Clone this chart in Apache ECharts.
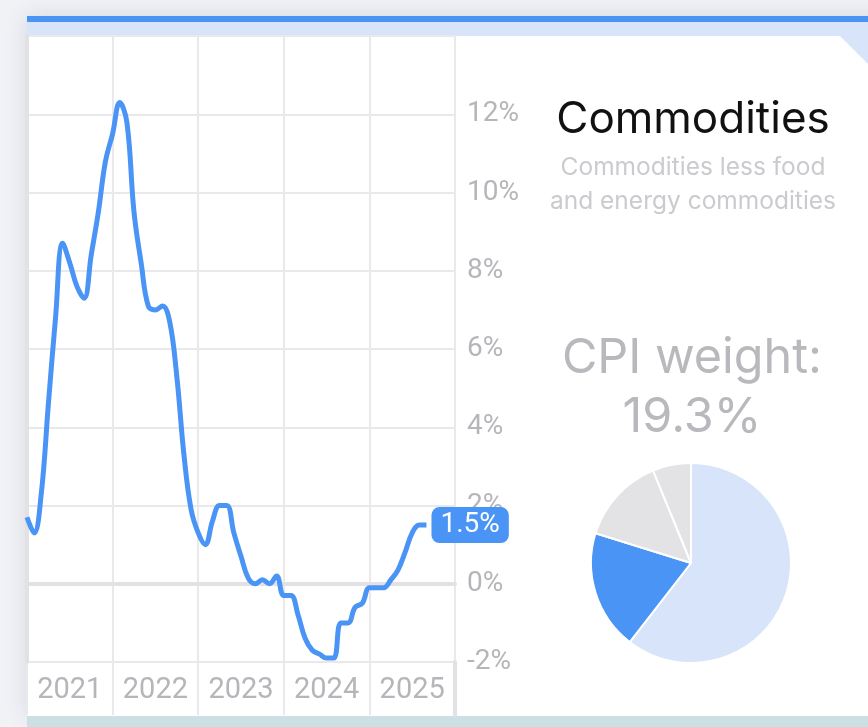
<!DOCTYPE html>
<html>
<head>
<meta charset="utf-8">
<script src="https://cdn.jsdelivr.net/npm/echarts@6/dist/echarts.min.js"></script>
<style>
  html, body { margin: 0; padding: 0; width: 868px; height: 727px; overflow: hidden; background: #f1f2f6; }
  #card { position: absolute; left: 27px; top: 16px; width: 900px; height: 700px; background: #fff;
          box-shadow: 0 0 22px rgba(40, 50, 80, 0.13); }
  #topBar { position: absolute; left: 27px; top: 16px; width: 900px; height: 6px; background: #4a94f5; }
  #band { position: absolute; left: 27px; top: 22px; width: 900px; height: 14px; background: #d7e4fa; }
  #corner { position: absolute; left: 840px; top: 36px; width: 28px; height: 28px; background: #d7e4fa;
            clip-path: polygon(0 0, 100% 0, 100% 100%); }
  #foot { position: absolute; left: 27px; top: 716px; width: 900px; height: 11px; background: #cce0e3; }
  #chart { position: absolute; left: 0; top: 0; width: 868px; height: 727px; }
</style>
</head>
<body>
<div id="card"></div>
<div id="topBar"></div>
<div id="band"></div>
<div id="corner"></div>
<div id="foot"></div>
<div id="chart"></div>
<script>
// year bands on the x axis
var years = ['2021', '2022', '2023', '2024', '2025'];

// monthly YoY change, Jan 2021 .. Sep 2025 (%)
var months = [
  '2021-01','2021-02','2021-03','2021-04','2021-05','2021-06','2021-07','2021-08','2021-09','2021-10','2021-11','2021-12',
  '2022-01','2022-02','2022-03','2022-04','2022-05','2022-06','2022-07','2022-08','2022-09','2022-10','2022-11','2022-12',
  '2023-01','2023-02','2023-03','2023-04','2023-05','2023-06','2023-07','2023-08','2023-09','2023-10','2023-11','2023-12',
  '2024-01','2024-02','2024-03','2024-04','2024-05','2024-06','2024-07','2024-08','2024-09','2024-10','2024-11','2024-12',
  '2025-01','2025-02','2025-03','2025-04','2025-05','2025-06','2025-07','2025-08','2025-09'
];
var values = [
  1.7, 1.3, 2.3, 4.6, 6.8, 8.7, 8.2, 7.6, 7.3, 8.4, 9.5, 10.8,
  11.5, 12.3, 11.8, 9.5, 8.2, 7.1, 7.0, 7.1, 6.7, 5.3, 3.3, 1.9,
  1.3, 1.0, 1.6, 2.0, 2.0, 1.3, 0.7, 0.15, 0.0, 0.1, 0.0, 0.2,
  -0.3, -0.3, -0.8, -1.4, -1.7, -1.8, -1.9, -1.9, -1.0, -1.0, -0.6, -0.5,
  -0.1, -0.1, -0.1, 0.1, 0.35, 0.8, 1.3, 1.5, 1.5
];

// CPI weights for the pie
var pieNames = ['Services less energy services', 'Commodities less food and energy commodities', 'Food', 'Energy'];
var pieValues = [60.5, 19.3, 14.0, 6.2];
var pieColors = ['#d7e4fa', '#4a94f5', '#e3e3e5', '#e3e3e5'];

var lineData = [];
for (var i = 0; i < values.length; i++) {
  lineData.push([i, values[i]]);
}

var pieData = [];
for (var j = 0; j < pieValues.length; j++) {
  pieData.push({ name: pieNames[j], value: pieValues[j], itemStyle: { color: pieColors[j] } });
}

var axisGray = '#e2e2e4';
var gridGray = '#e9e9eb';
var labelGray = '#b6b6ba';

var myChart = echarts.init(document.getElementById('chart'));

var option = {
  animation: false,
  title: [
    {
      text: 'Commodities',
      left: 688, top: 93, textAlign: 'center',
      textStyle: { fontFamily: 'Inter', fontSize: 44, fontWeight: 'normal', color: '#111' }
    },
    {
      text: 'Commodities less food\nand energy commodities',
      left: 688, top: 146, textAlign: 'center',
      textStyle: { fontFamily: 'Inter', fontSize: 24.5, fontWeight: 'normal', color: '#cbcbcf', lineHeight: 34 }
    },
    {
      text: 'CPI weight:\n' + pieValues[1] + '%',
      left: 687, top: 324, textAlign: 'center',
      textStyle: { fontFamily: 'Inter', fontSize: 48.5, fontWeight: 'normal', color: '#b9b9bd', lineHeight: 59 }
    }
  ],
  grid: [
    { left: 27, right: 413, top: 36, bottom: 65, containLabel: false, outerBoundsMode: 'none' },
    // strip below the plot holding the year labels
    { left: 27, right: 413, top: 662, bottom: 12, containLabel: false, outerBoundsMode: 'none' }
  ],
  xAxis: [
    {
      type: 'category',
      gridIndex: 0,
      data: years,
      boundaryGap: true,
      axisLine: { show: true, lineStyle: { color: axisGray, width: 4 } },
      axisTick: { show: false },
      axisLabel: { show: false },
      splitLine: { show: true, lineStyle: { color: gridGray, width: 2 } }
    },
    {
      type: 'value',
      gridIndex: 0,
      min: 0,
      max: 60,
      show: false
    },
    {
      type: 'category',
      gridIndex: 1,
      data: years,
      position: 'top',
      boundaryGap: true,
      axisLine: { show: false },
      axisTick: { show: false },
      axisLabel: { inside: true, margin: 14, fontFamily: 'Roboto', fontSize: 29, color: labelGray },
      splitLine: { show: true, lineStyle: { color: gridGray, width: 2 } },
      z: 0
    }
  ],
  yAxis: [
    {
      type: 'value',
      gridIndex: 0,
      position: 'right',
      min: -2,
      max: 14,
      interval: 2,
      axisLine: { show: true, lineStyle: { color: axisGray, width: 4 } },
      axisTick: { show: false },
      axisLabel: {
        margin: 12, fontFamily: 'Roboto', fontSize: 28, color: labelGray,
        showMaxLabel: false,
        formatter: function (v) { return v + '%'; }
      },
      splitLine: { show: true, lineStyle: { color: gridGray, width: 2 } }
    },
    {
      type: 'value',
      gridIndex: 1,
      position: 'right',
      min: 0,
      max: 1,
      axisLine: { show: true, lineStyle: { color: axisGray, width: 4 } },
      axisTick: { show: false },
      axisLabel: { show: false },
      splitLine: { show: false }
    }
  ],
  series: [
    {
      // zero line under the main series
      type: 'line',
      xAxisIndex: 1,
      yAxisIndex: 0,
      data: [],
      z: 1,
      silent: true,
      markLine: {
        symbol: 'none',
        silent: true,
        label: { show: false },
        lineStyle: { color: axisGray, width: 4, type: 'solid' },
        data: [{ yAxis: 0 }]
      }
    },
    {
      name: 'Commodities',
      type: 'line',
      xAxisIndex: 1,
      yAxisIndex: 0,
      data: lineData,
      z: 5,
      smooth: 0.4,
      showSymbol: false,
      lineStyle: { color: '#4a94f5', width: 5 },
      endLabel: {
        show: true,
        distance: 5,
        formatter: function (p) { return p.value[1].toFixed(1) + '%'; },
        fontFamily: 'Roboto', fontSize: 28, lineHeight: 30, color: '#fff',
        backgroundColor: '#4a94f5', borderRadius: 8, padding: [3, 9]
      }
    },
    {
      type: 'pie',
      center: [691, 563],
      radius: 100,
      startAngle: 90,
      clockwise: true,
      label: { show: false },
      labelLine: { show: false },
      silent: true,
      itemStyle: { borderColor: '#fff', borderWidth: 2 },
      data: pieData
    }
  ]
};

if (option && typeof option === 'object') {
  myChart.setOption(option, true);
}
</script>
</body>
</html>
